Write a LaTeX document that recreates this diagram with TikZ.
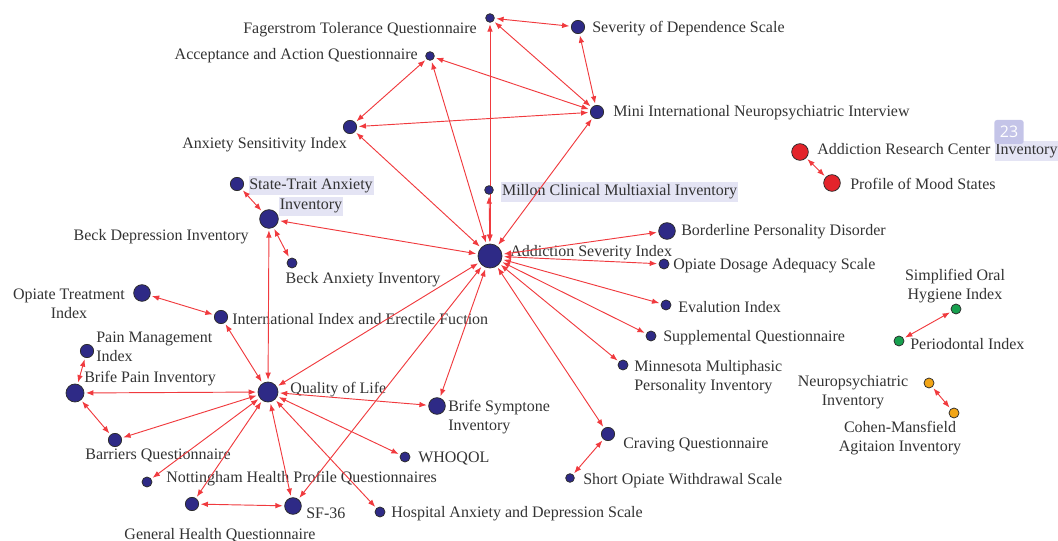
\documentclass[tikz,border=0pt]{standalone}
\usepackage{fontspec}
\setmainfont{Liberation Serif}
\setsansfont{Open Sans}
\usetikzlibrary{arrows.meta}
\definecolor{ink}{HTML}{2B2B2B}
\definecolor{txt}{HTML}{333333}
\definecolor{navy}{HTML}{2E2A86}
\definecolor{dotred}{HTML}{E3242B}
\definecolor{dotgreen}{HTML}{17A04E}
\definecolor{dotorange}{HTML}{F2A516}
\definecolor{linkred}{HTML}{F03A3E}
\definecolor{hl}{HTML}{E4E4F4}
\definecolor{badgebg}{HTML}{C4C4E8}
\newcommand{\hlbox}[1]{{\setlength{\fboxsep}{0.6pt}\colorbox{hl}{\strut #1}}}
\pgfdeclarelayer{bg}
\pgfsetlayers{bg,main}
\tikzset{
  dot/.style={circle,draw=ink,line width=0.55pt,inner sep=0pt,fill=navy},
  reddot/.style={dot,fill=dotred},
  greendot/.style={dot,fill=dotgreen},
  orangedot/.style={dot,fill=dotorange},
  sz0/.style={minimum size=6.5pt},
  sz1/.style={minimum size=7.5pt},
  sz2/.style={minimum size=10pt},
  sz3/.style={minimum size=12.5pt},
  sz4/.style={minimum size=15pt},
  sz5/.style={minimum size=18pt},
  lbl/.style={font=\fontsize{12}{14}\selectfont,text=txt,inner sep=0pt,yshift=-1.5pt},
  link/.style={{Latex[length=5.5pt,width=4.2pt]}-{Latex[length=5.5pt,width=4.2pt]},draw=linkred,line width=0.7pt,shorten <=1.2pt,shorten >=1.2pt}
}

\begin{document}
\begin{tikzpicture}[x=0.75pt,y=-0.75pt]
  \useasboundingbox (0,0) rectangle (1058,541);
  % dots
  \node[dot,sz0] (ftq) at (490,18) {};
  \node[dot,sz2] (sds) at (578,27) {};
  \node[dot,sz0] (aaq) at (430,56) {};
  \node[dot,sz2] (mini) at (597,112) {};
  \node[dot,sz2] (asx) at (350,127) {};
  \node[reddot,sz3] (arci) at (800,152) {};
  \node[reddot,sz3] (poms) at (832,183) {};
  \node[dot,sz0] (mcmi) at (489,190) {};
  \node[dot,sz2] (stai) at (237,184) {};
  \node[dot,sz3,minimum size=14pt] (bdi) at (269,219) {};
  \node[dot,sz1] (bai) at (292,263) {};
  \node[dot,sz5] (asi) at (490,256) {};
  \node[dot,sz3] (bpd) at (667,231) {};
  \node[dot,sz1] (odas) at (664,264) {};
  \node[dot,sz1] (evi) at (666,305) {};
  \node[dot,sz1] (supq) at (651,336) {};
  \node[dot,sz1] (mmpi) at (623,365) {};
  \node[dot,sz2] (cq) at (608,434) {};
  \node[dot,sz0] (sows) at (570,478) {};
  \node[greendot,sz1] (sohi) at (956,309) {};
  \node[greendot,sz1] (pi) at (899,341) {};
  \node[orangedot,sz1] (npi) at (929,383) {};
  \node[orangedot,sz1] (cmai) at (954,413) {};
  \node[dot,sz3] (oti) at (142,293) {};
  \node[dot,sz2] (iief) at (221,317) {};
  \node[dot,sz2] (pmi) at (87,351) {};
  \node[dot,sz3,minimum size=13.5pt] (bpi) at (75,393) {};
  \node[dot,sz4] (qol) at (268,392) {};
  \node[dot,sz3] (bsi) at (437,406) {};
  \node[dot,sz2] (bq) at (115,440) {};
  \node[dot,sz1] (whoqol) at (405,457) {};
  \node[dot,sz1] (nhpq) at (147,482) {};
  \node[dot,sz2] (ghq) at (192,504) {};
  \node[dot,sz3] (sf36) at (293,506) {};
  \node[dot,sz1] (hads) at (380,512) {};
  \begin{pgfonlayer}{bg}
  % labels
  \node[lbl,anchor=east] (ftq-l) at (477,28) {Fagerstrom Tolerance Questionnaire};
  \node[lbl,anchor=west] (sds-l) at (592,27) {Severity of Dependence Scale};
  \node[lbl,anchor=east] (aaq-l) at (418,54) {Acceptance and Action Questionnaire};
  \node[lbl,anchor=west] (mini-l) at (613,111) {Mini International Neuropsychiatric Interview};
  \node[lbl,anchor=east] (asx-l) at (347,143) {Anxiety Sensitivity Index};
  \node[lbl,anchor=west] (arci-l) at (817,149) {Addiction Research Center \hlbox{Inventory}};
  \node[lbl,anchor=west] (poms-l) at (850,182) {Profile of Mood States};
  \node[lbl,anchor=west] (mcmi-l) at (501,190) {\hlbox{Millon Clinical Multiaxial Inventory}};
  \node[lbl,align=center,font=\fontsize{12}{13}\selectfont] (stai-l) at (311,194) {\hlbox{State-Trait Anxiety}\\\hlbox{Inventory}};
  \node[lbl,anchor=east] (bdi-l) at (249,235) {Beck Depression Inventory};
  \node[lbl] (bai-l) at (363,278) {Beck Anxiety Inventory};
  \node[lbl,anchor=west] (asi-l) at (510,251) {Addiction Severity Index};
  \node[lbl,anchor=west] (bpd-l) at (681,230) {Borderline Personality Disorder};
  \node[lbl,anchor=west] (odas-l) at (673,264) {Opiate Dosage Adequacy Scale};
  \node[lbl,anchor=west] (evi-l) at (678,305) {Evalution Index};
  \node[lbl,anchor=west] (supq-l) at (663,336) {Supplemental Questionnaire};
  \node[lbl,anchor=west,align=left] (mmpi-l) at (634,375) {Minnesota Multiphasic\\Personality Inventory};
  \node[lbl,anchor=west] (cq-l) at (623,443) {Craving Questionnaire};
  \node[lbl,anchor=west] (sows-l) at (583,479) {Short Opiate Withdrawal Scale};
  \node[lbl,align=center] (sohi-l) at (955,284) {Simplified Oral\\Hygiene Index};
  \node[lbl,anchor=west] (pi-l) at (910,342) {Periodontal Index};
  \node[lbl,align=center] (npi-l) at (853,390) {Neuropsychiatric\\Inventory};
  \node[lbl,align=center] (cmai-l) at (900,436) {Cohen-Mansfield\\Agitaion Inventory};
  \node[lbl,align=center] (oti-l) at (69,302) {Opiate Treatment\\Index};
  \node[lbl,anchor=west] (iief-l) at (232,317) {International Index and Erectile Fuction};
  \node[lbl,anchor=west,align=left] (pmi-l) at (96,345) {Pain Management\\Index};
  \node[lbl,anchor=west] (bpi-l) at (84,377) {Brife Pain Inventory};
  \node[lbl,anchor=west] (qol-l) at (290,388) {Quality of Life};
  \node[lbl,anchor=west,align=left] (bsi-l) at (448,415) {Brife Symptone\\Inventory};
  \node[lbl] (bq-l) at (158,454) {Barriers Questionnaire};
  \node[lbl,anchor=west] (whoqol-l) at (418,457) {WHOQOL};
  \node[lbl,anchor=west] (nhpq-l) at (166,477) {Nottingham Health Profile Questionnaires};
  \node[lbl] (ghq-l) at (220,533) {General Health Questionnaire};
  \node[lbl,anchor=west] (sf36-l) at (306,511) {SF-36};
  \node[lbl,anchor=west] (hads-l) at (391,512) {Hospital Anxiety and Depression Scale};
  % links
  \foreach \a/\b in {ftq/sds,ftq/mini,sds/mini,aaq/mini,aaq/asx,asx/mini,
      ftq/asi,aaq/asi,asx/asi,mini/asi,mcmi/asi,stai/bdi,bdi/bai,bdi/asi,bdi/qol,
      asi/bpd,asi/odas,asi/evi,asi/supq,asi/mmpi,asi/cq,cq/sows,
      qol/asi,sf36/asi,bsi/asi,iief/qol,oti/iief,pmi/bpi,bpi/qol,bpi/bq,bq/qol,
      nhpq/qol,ghq/qol,ghq/sf36,sf36/qol,hads/qol,whoqol/qol,bsi/qol,
      arci/poms,sohi/pi,npi/cmai}
    \draw[link] (\a) -- (\b);
  \end{pgfonlayer}
  \node[fill=badgebg,rounded corners=2pt,text=white,font=\sffamily\fontsize{12}{12}\selectfont,minimum width=22pt,minimum height=18pt,inner sep=0pt] (badge) at (1009,132) {23};
\end{tikzpicture}
\end{document}
